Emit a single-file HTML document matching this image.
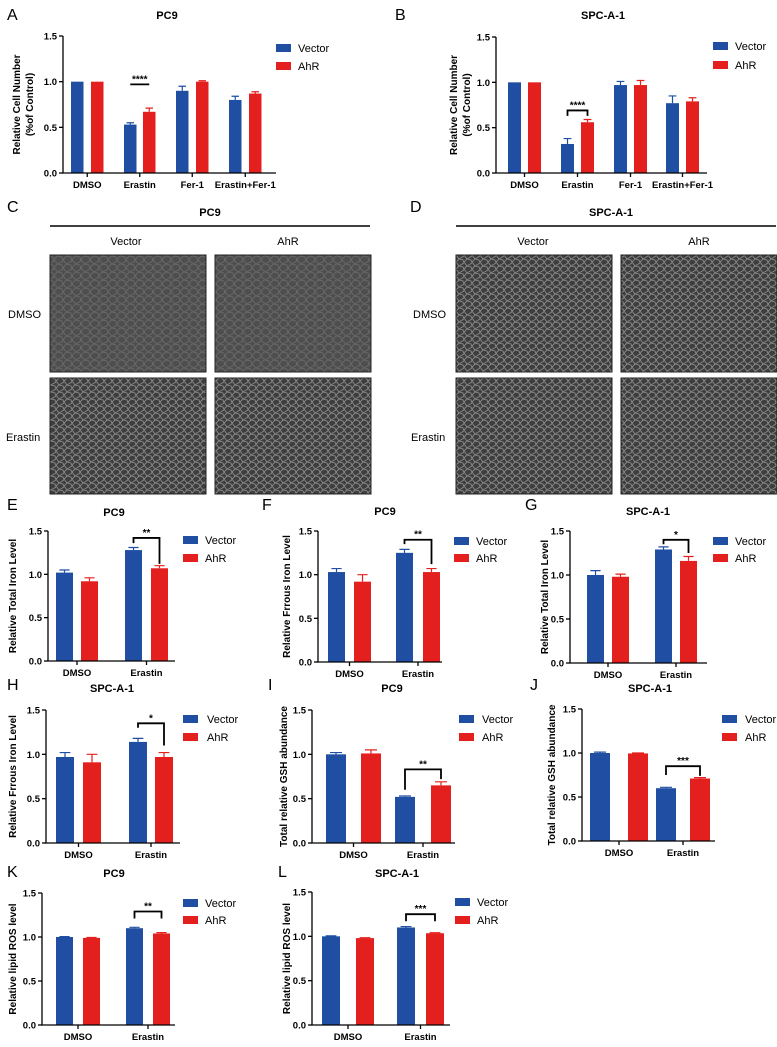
<!DOCTYPE html>
<html><head><meta charset="utf-8"><style>
html,body{margin:0;padding:0;background:#fff}
svg{display:block}
text{font-family:"Liberation Sans",Arial,sans-serif}
</style></head><body>
<svg id="fig" width="777" height="1047" viewBox="0 0 777 1047" xmlns="http://www.w3.org/2000/svg">
<defs>
<pattern id="cells" width="9" height="8" patternUnits="userSpaceOnUse">
<rect width="9" height="8" fill="#4e4e4e"/>
<path d="M0 4 L3 0 M3 0 L8 1 M8 1 L9 5 M0 4 L4 8 M4 8 L9 5" stroke="#6c6c6c" stroke-width="0.8" fill="none"/>
</pattern>
<pattern id="cells2" width="8" height="7" patternUnits="userSpaceOnUse">
<rect width="8" height="7" fill="#3e3e3e"/>
<path d="M0 3 L3 0 L7 1 L8 4 M0 3 L3 7 L8 4" stroke="#8a8a8a" stroke-width="0.9" fill="none"/>
</pattern>
</defs>
<g id="micro">
<text x="7" y="212" font-size="16">C</text>
<text x="210" y="216" font-size="11" font-weight="bold" text-anchor="middle">PC9</text>
<line x1="50" y1="226" x2="370" y2="226" stroke="#000" stroke-width="1.5"/>
<text x="126" y="245" font-size="11" text-anchor="middle">Vector</text>
<text x="288" y="245" font-size="11" text-anchor="middle">AhR</text>
<text x="8" y="318" font-size="11">DMSO</text>
<text x="6" y="441" font-size="11">Erastin</text>
<rect x="50" y="255" width="156" height="117" fill="url(#cells)" stroke="#222"/>
<rect x="215" y="255" width="156" height="117" fill="url(#cells)" stroke="#222"/>
<rect x="50" y="378" width="156" height="116" fill="url(#cells2)" stroke="#222"/>
<rect x="215" y="378" width="156" height="116" fill="url(#cells2)" stroke="#222"/>
<text x="410" y="212" font-size="16">D</text>
<text x="611" y="216" font-size="11" font-weight="bold" text-anchor="middle">SPC-A-1</text>
<line x1="456" y1="226" x2="776" y2="226" stroke="#000" stroke-width="1.5"/>
<text x="533" y="245" font-size="11" text-anchor="middle">Vector</text>
<text x="699" y="245" font-size="11" text-anchor="middle">AhR</text>
<text x="413" y="318" font-size="11">DMSO</text>
<text x="411" y="441" font-size="11">Erastin</text>
<rect x="456" y="255" width="156" height="117" fill="url(#cells2)" stroke="#222"/>
<rect x="621" y="255" width="156" height="117" fill="url(#cells2)" stroke="#222"/>
<rect x="456" y="378" width="156" height="116" fill="url(#cells2)" stroke="#222"/>
<rect x="621" y="378" width="156" height="116" fill="url(#cells2)" stroke="#222"/>
</g>
</svg>
<script>
// ---- data ----
const cats4 = ["DMSO","Erastin","Fer-1","Erastin+Fer-1"];
const cats2 = ["DMSO","Erastin"];
const yTicks = [0, 0.5, 1.0, 1.5];
const yTickLabels = ["0.0","0.5","1.0","1.5"];
const aVec = [1.0, 0.53, 0.90, 0.80]; const aVecErr = [0, 0.02, 0.05, 0.04];
const aAhr = [1.0, 0.67, 1.00, 0.87]; const aAhrErr = [0, 0.04, 0.01, 0.02];
const bVec = [1.0, 0.32, 0.97, 0.77]; const bVecErr = [0, 0.06, 0.04, 0.08];
const bAhr = [1.0, 0.56, 0.97, 0.79]; const bAhrErr = [0, 0.03, 0.05, 0.04];
const eVec = [1.02, 1.28]; const eVecErr = [0.03, 0.03];
const eAhr = [0.92, 1.07]; const eAhrErr = [0.04, 0.03];
const fVec = [1.03, 1.25]; const fVecErr = [0.04, 0.04];
const fAhr = [0.92, 1.03]; const fAhrErr = [0.08, 0.04];
const gVec = [1.00, 1.29]; const gVecErr = [0.05, 0.03];
const gAhr = [0.98, 1.16]; const gAhrErr = [0.03, 0.05];
const hVec = [0.97, 1.14]; const hVecErr = [0.05, 0.04];
const hAhr = [0.91, 0.97]; const hAhrErr = [0.09, 0.05];
const iVec = [1.00, 0.52]; const iVecErr = [0.02, 0.01];
const iAhr = [1.01, 0.65]; const iAhrErr = [0.04, 0.04];
const jVec = [1.00, 0.60]; const jVecErr = [0.01, 0.01];
const jAhr = [0.995, 0.71]; const jAhrErr = [0.005, 0.01];
const kVec = [1.00, 1.10]; const kVecErr = [0.005, 0.01];
const kAhr = [0.99, 1.04]; const kAhrErr = [0.005, 0.01];
const lVec = [1.00, 1.10]; const lVecErr = [0.005, 0.01];
const lAhr = [0.98, 1.035]; const lAhrErr = [0.005, 0.005];

const NS = "http://www.w3.org/2000/svg";
const svg = document.getElementById("fig");
const BLUE = "#1f4ea3", RED = "#e3201d";
function el(tag, attrs, parent, txt){
  const e = document.createElementNS(NS, tag);
  for (const k in attrs) e.setAttribute(k, attrs[k]);
  if (txt !== undefined) e.textContent = txt;
  parent.appendChild(e);
  return e;
}
function chart(c){
  const g = el("g", {}, svg);
  
  
  const y = v => c.y0 - (v / 1.5) * (c.y0 - c.y15);
  const L = el("text", {x:c.letter[0], y:c.letter[1], "font-size":16}, g, c.id.toUpperCase());
  
  
  const T = el("text", {x:c.title[0], y:c.title[1], "font-size":11, "font-weight":"bold", "text-anchor":"middle"}, g, c.titleText);
  
  
  for (let i = 0; i < c.cats.length; i++){
    [[c.vec, c.vecErr, c.vx, BLUE, 'vector'], [c.ahr, c.ahrErr, c.axs, RED, 'ahr']].forEach(s => {
      const v = s[0][i], er = s[1][i], x = s[2][i];
      const b = el("rect", {x:x, y:y(v), width:c.w, height:c.y0 - y(v), fill:s[3]}, g);
      
      
      if (er > 0){
        const cx = x + c.w / 2;
        const eb = el("path", {d:`M${cx} ${y(v)} V${y(v+er)} M${cx-c.w*0.3} ${y(v+er)} H${cx+c.w*0.3}`, stroke:s[3], "stroke-width":1.2, fill:"none"}, g);
        
        
      }
    });
    const tx = (c.vx[i] + c.axs[i] + c.w) / 2;
    const tk = el("line", {x1:tx, x2:tx, y1:c.y0, y2:c.y0+4, stroke:"#000", "stroke-width":1.3}, g);
    
    
    const xl = el("text", {x:tx, y:c.y0+15, "font-size":9.5, "font-weight":"bold", "text-anchor":"middle"}, g, c.cats[i]);
    
    
  }
  const ax = el("path", {d:`M${c.ax} ${c.y15} V${c.y0} H${c.axEnd}`, stroke:"#000", "stroke-width":1.3, fill:"none"}, g);
  
  
  yTicks.forEach((t, k) => {
    const tl = el("line", {x1:c.ax-4, x2:c.ax, y1:y(t), y2:y(t), stroke:"#000", "stroke-width":1.3}, g);
    
    
    const lb = el("text", {x:c.ax-6, y:y(t)+3.5, "font-size":9.5, "font-weight":"bold", "text-anchor":"end"}, g, yTickLabels[k]);
    
    
  });
  const cy = (c.y0 + c.y15) / 2;
  c.ylab.forEach((ln, k) => {
    const yl = el("text", {x:0, y:0, "font-size":10, "font-weight":"bold", "text-anchor":"middle", transform:`translate(${c.ylx[k]},${cy}) rotate(-90)`}, g, ln);
    
    
  });
  [["Vector", BLUE, c.leg[2]], ["AhR", RED, c.leg[3]]].forEach(s => {
    const r = el("rect", {x:c.leg[0], y:s[2]-4, width:15, height:8, fill:s[1]}, g);
    
    
    const t = el("text", {x:c.leg[1], y:s[2]+4, "font-size":11}, g, s[0]);
    
    
  });
  const s = c.sig;
  const x1 = c.vx[1] + c.w / 2, x2 = c.axs[1] + c.w / 2;
  const d = s.flat ? `M${x1} ${y(s.top)} H${x2}` : `M${x1} ${y(s.l)} V${y(s.top)} H${x2} V${y(s.r)}`;
  const br = el("path", {d:d, stroke:"#000", "stroke-width":1.8, fill:"none"}, g);
  
  
  const st = el("text", {x:(x1+x2)/2, y:y(s.top)-2, "font-size":10, "font-weight":"bold", "text-anchor":"middle"}, g, s.stars);
  
  
}
const cellLab = ["Relative Cell Number", "(%of Control)"];
chart({id:"a", titleText:"PC9", cats:cats4, vec:aVec, vecErr:aVecErr, ahr:aAhr, ahrErr:aAhrErr, ax:63, axEnd:276, y0:173, y15:36, w:12.5, vx:[71,124,176,229], axs:[91,143,196,249], letter:[7,20], title:[167,19], ylab:cellLab, ylx:[20,33], leg:[276,298,48,66], sig:{top:0.97, l:0.97, r:0.97, stars:"****", flat:true}});
chart({id:"b", titleText:"SPC-A-1", cats:cats4, vec:bVec, vecErr:bVecErr, ahr:bAhr, ahrErr:bAhrErr, ax:496, axEnd:707, y0:173, y15:37, w:13, vx:[508,561,614,666], axs:[528,581,634,686], letter:[395,20], title:[603,19], ylab:cellLab, ylx:[457,470], leg:[713,735,46,65], sig:{top:0.69, l:0.63, r:0.63, stars:"****"}});
chart({id:"e", titleText:"PC9", cats:cats2, vec:eVec, vecErr:eVecErr, ahr:eAhr, ahrErr:eAhrErr, ax:48, axEnd:175, y0:661, y15:531, w:17, vx:[56,125], axs:[81,151], letter:[7,510], title:[114,516], ylab:["Relative Total Iron Level"], ylx:[16], leg:[183,205,540,558], sig:{top:1.42, l:1.36, r:1.12, stars:"**"}});
chart({id:"f", titleText:"PC9", cats:cats2, vec:fVec, vecErr:fVecErr, ahr:fAhr, ahrErr:fAhrErr, ax:318, axEnd:442, y0:662, y15:531, w:17, vx:[328,396], axs:[354,423], letter:[262,510], title:[385,515], ylab:["Relative Frrous Iron Level"], ylx:[290], leg:[454,476,541,558], sig:{top:1.40, l:1.35, r:1.12, stars:"**"}});
chart({id:"g", titleText:"SPC-A-1", cats:cats2, vec:gVec, vecErr:gVecErr, ahr:gAhr, ahrErr:gAhrErr, ax:570, axEnd:707, y0:663, y15:531, w:17, vx:[587,655], axs:[612,680], letter:[525,510], title:[648,515], ylab:["Relative Total Iron Level"], ylx:[548], leg:[713,735,541,558], sig:{top:1.40, l:1.35, r:1.25, stars:"*"}});
chart({id:"h", titleText:"SPC-A-1", cats:cats2, vec:hVec, vecErr:hVecErr, ahr:hAhr, ahrErr:hAhrErr, ax:46, axEnd:180, y0:843, y15:710, w:18, vx:[56,129], axs:[83,155], letter:[7,690], title:[112,692], ylab:["Relative Frrous Iron Level"], ylx:[16], leg:[183,207,719,737], sig:{top:1.35, l:1.30, r:1.10, stars:"*"}});
chart({id:"i", titleText:"PC9", cats:cats2, vec:iVec, vecErr:iVecErr, ahr:iAhr, ahrErr:iAhrErr, ax:312, axEnd:455, y0:843, y15:710, w:20, vx:[326,395], axs:[361,431], letter:[268,690], title:[392,692], ylab:["Total relative GSH abundance"], ylx:[287], leg:[459,482,719,737], sig:{top:0.83, l:0.60, r:0.72, stars:"**"}});
chart({id:"j", titleText:"SPC-A-1", cats:cats2, vec:jVec, vecErr:jVecErr, ahr:jAhr, ahrErr:jAhrErr, ax:582, axEnd:715, y0:841, y15:709, w:20, vx:[590,656], axs:[628,690], letter:[530,690], title:[650,692], ylab:["Total relative GSH abundance"], ylx:[555], leg:[722,745,719,737], sig:{top:0.85, l:0.75, r:0.74, stars:"***"}});
chart({id:"k", titleText:"PC9", cats:cats2, vec:kVec, vecErr:kVecErr, ahr:kAhr, ahrErr:kAhrErr, ax:42, axEnd:175, y0:1025, y15:893, w:17, vx:[56,126], axs:[83,153], letter:[7,877], title:[114,877], ylab:["Relative lipid ROS level"], ylx:[16], leg:[183,205,903,920], sig:{top:1.29, l:1.21, r:1.21, stars:"**"}});
chart({id:"l", titleText:"SPC-A-1", cats:cats2, vec:lVec, vecErr:lVecErr, ahr:lAhr, ahrErr:lAhrErr, ax:312, axEnd:450, y0:1025, y15:892, w:18, vx:[322,397], axs:[356,426], letter:[278,877], title:[397,877], ylab:["Relative lipid ROS level"], ylx:[290], leg:[455,477,902,920], sig:{top:1.25, l:1.17, r:1.17, stars:"***"}});
</script>
</body></html>
